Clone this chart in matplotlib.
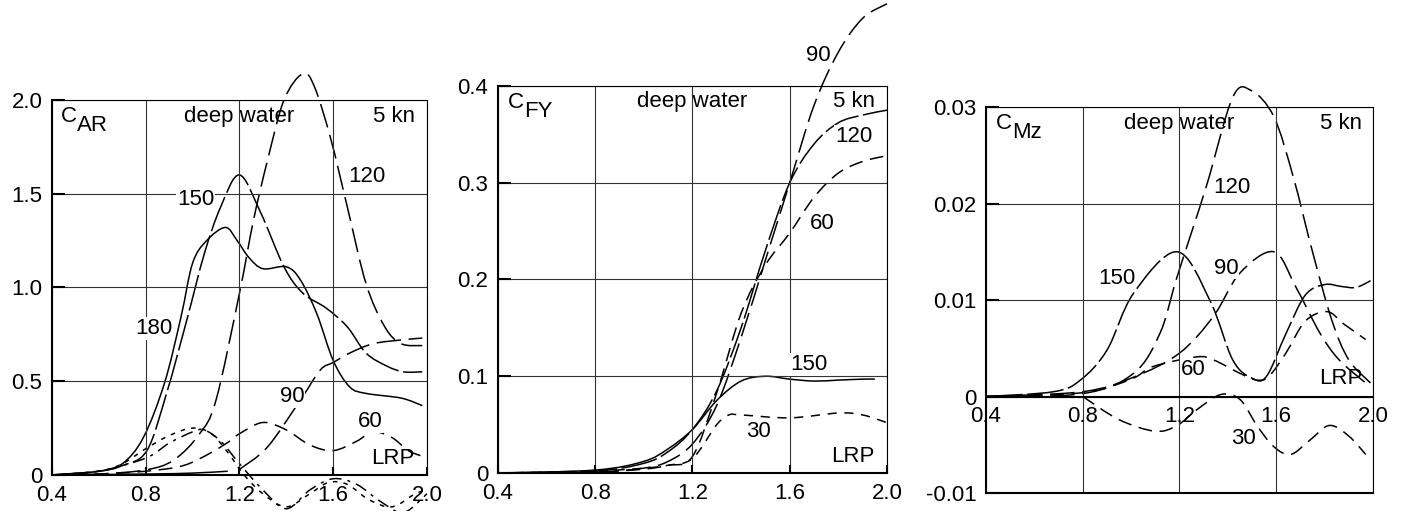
import matplotlib
matplotlib.use("Agg")
import matplotlib.pyplot as plt
from matplotlib.path import Path
from matplotlib.patches import PathPatch
import numpy as np

plt.rcParams['font.family'] = ['Liberation Sans', 'DejaVu Sans']
plt.rcParams['font.size'] = 16

# --- C_AR, deep water, 5 kn ---
car_x180 = [0.4, 0.6, 0.7, 0.79, 0.88, 0.95, 1.0, 1.06, 1.14, 1.19, 1.24, 1.30, 1.40, 1.46, 1.53, 1.60, 1.67, 1.74, 1.89, 1.98]
car_y180 = [0, 0.02, 0.06, 0.20, 0.49, 0.84, 1.13, 1.25, 1.32, 1.25, 1.16, 1.10, 1.11, 1.04, 0.86, 0.61, 0.47, 0.435, 0.41, 0.37]
car_x150 = [0.4, 0.6, 0.7, 0.805, 0.89, 0.976, 1.05, 1.12, 1.2, 1.29, 1.39, 1.47, 1.57, 1.66, 1.74, 1.83, 1.90, 1.98]
car_y150 = [0, 0.02, 0.05, 0.13, 0.44, 0.83, 1.18, 1.43, 1.60, 1.40, 1.11, 0.97, 0.89, 0.79, 0.65, 0.58, 0.55, 0.55]
car_x120 = [0.4, 0.6, 0.8, 0.92, 1.03, 1.10, 1.2, 1.26, 1.32, 1.39, 1.47, 1.52, 1.59, 1.66, 1.74, 1.82, 1.89, 1.98]
car_y120 = [0, 0.005, 0.027, 0.08, 0.22, 0.40, 0.97, 1.36, 1.68, 2.0, 2.14, 2.07, 1.79, 1.43, 1.02, 0.79, 0.70, 0.69]
car_x90 = [1.2, 1.32, 1.46, 1.545, 1.6, 1.67, 1.77, 1.89, 1.98]
car_y90 = [0.03, 0.15, 0.40, 0.56, 0.60, 0.65, 0.70, 0.72, 0.73]
car_x60 = [0.4, 0.6, 0.8, 0.96, 1.08, 1.17, 1.2, 1.3, 1.4, 1.5, 1.6, 1.7, 1.77, 1.85, 1.92, 1.98]
car_y60 = [0, 0.005, 0.02, 0.05, 0.12, 0.19, 0.22, 0.28, 0.24, 0.16, 0.13, 0.18, 0.23, 0.20, 0.13, 0.10]
car_x30 = [0.4, 0.6, 0.7, 0.8, 0.9, 1.0, 1.08, 1.15, 1.22, 1.3, 1.4, 1.5, 1.58, 1.66, 1.75, 1.85, 1.95, 2.0]
car_y30 = [0, 0.02, 0.06, 0.14, 0.21, 0.25, 0.22, 0.12, 0.0, -0.1, -0.17, -0.10, -0.04, -0.05, -0.13, -0.17, -0.10, -0.08]
car_x0 = [0.4, 0.6, 0.8, 0.9, 1.0, 1.05, 1.12, 1.2, 1.3, 1.4, 1.5, 1.6, 1.7, 1.8, 1.9, 2.0]
car_y0 = [0, 0.02, 0.09, 0.17, 0.23, 0.24, 0.18, 0.06, -0.08, -0.18, -0.08, -0.02, -0.05, -0.14, -0.2, -0.1]
car_xlow = [0.4, 0.8, 1.0, 1.15]
car_ylow = [0, 0.005, 0.01, 0.02]

# --- C_FY ---
cfy_x = [0.4, 0.8, 1.0, 1.1, 1.2, 1.3, 1.4, 1.5, 1.6, 1.7, 1.8, 1.9, 2.0]
cfy_y90 = [0, 0.001, 0.005, 0.012, 0.03, 0.07, 0.14, 0.22, 0.30, 0.38, 0.435, 0.47, 0.485]
cfy_y120 = [0, 0.002, 0.01, 0.022, 0.045, 0.085, 0.15, 0.23, 0.30, 0.34, 0.362, 0.37, 0.375]
cfy_y60 = [0, 0.001, 0.004, 0.008, 0.017, 0.083, 0.165, 0.215, 0.248, 0.285, 0.31, 0.322, 0.328]
cfy_x150 = [0.4, 0.8, 1.0, 1.1, 1.2, 1.3, 1.4, 1.5, 1.6, 1.7, 1.8, 1.9, 1.95]
cfy_y150 = [0, 0.003, 0.012, 0.025, 0.045, 0.075, 0.095, 0.1, 0.097, 0.095, 0.096, 0.097, 0.097]
cfy_x30 = [0.4, 0.8, 1.0, 1.1, 1.2, 1.3, 1.35, 1.4, 1.6, 1.8, 1.9, 2.0]
cfy_y30 = [0, 0.002, 0.005, 0.008, 0.015, 0.05, 0.06, 0.06, 0.057, 0.062, 0.06, 0.052]

# --- C_Mz ---
cmz_x120 = [0.4, 0.8, 1.01, 1.12, 1.19, 1.31, 1.42, 1.497, 1.59, 1.67, 1.75, 1.83, 1.9, 1.99]
cmz_y120 = [0, 0.0003, 0.0024, 0.0066, 0.0124, 0.0217, 0.031, 0.0317, 0.029, 0.0228, 0.015, 0.0079, 0.0038, 0.0014]
cmz_x150 = [0.4, 0.68, 0.79, 0.9, 1.01, 1.19, 1.325, 1.42, 1.5, 1.56, 1.64, 1.72, 1.8, 1.87, 1.93, 1.99]
cmz_y150 = [0, 0.0005, 0.0017, 0.0048, 0.0107, 0.015, 0.01, 0.0038, 0.0019, 0.0021, 0.0065, 0.0105, 0.0116, 0.0114, 0.0113, 0.012]
cmz_x90 = [0.4, 0.8, 1.01, 1.2, 1.34, 1.45, 1.59, 1.68, 1.78, 1.86, 1.97]
cmz_y90 = [0, 0.0005, 0.002, 0.0045, 0.0083, 0.0128, 0.015, 0.0114, 0.0066, 0.0038, 0.0014]
cmz_x60 = [0.4, 0.8, 1.0, 1.09, 1.27, 1.34, 1.45, 1.52, 1.57, 1.64, 1.72, 1.81, 1.88, 1.97]
cmz_y60 = [0, 0.0004, 0.0018, 0.0031, 0.0041, 0.0038, 0.0024, 0.0017, 0.0021, 0.0045, 0.0078, 0.0088, 0.0075, 0.0059]
cmz_x30 = [0.8, 0.95, 1.1, 1.19, 1.27, 1.37, 1.45, 1.52, 1.59, 1.66, 1.74, 1.82, 1.9, 1.97]
cmz_y30 = [0, -0.0024, -0.0036, -0.003, -0.0014, 0.0002, -0.0003, -0.003, -0.0052, -0.006, -0.0045, -0.003, -0.0041, -0.006]

LONG = (0, (16, 5))
VLONG = (0, (24, 3))
MED = (0, (9, 5))
SHORT = (0, (6, 5))
DOT = (0, (3, 4))
DASHDOT = (0, (8, 4, 2, 4))

fig = plt.figure(figsize=(14.05, 5.11), dpi=100)
ax1 = fig.add_axes([0.037, 0.0705, 0.2669, 0.7339])
ax2 = fig.add_axes([0.3544, 0.0744, 0.2769, 0.7573])
ax3 = fig.add_axes([0.7018, 0.0352, 0.2754, 0.7554])


def frame(ax, yticks, ylabels, ylim):
    ax.set_xlim(0.4, 2.0)
    ax.set_ylim(*ylim)
    ax.set_xticks([0.4, 0.8, 1.2, 1.6, 2.0])
    ax.set_xticklabels(['0.4', '0.8', '1.2', '1.6', '2.0'])
    ax.set_yticks(yticks)
    ax.set_yticklabels(ylabels)
    ax.grid(True, color='#333333', lw=0.8)
    ax.tick_params(axis='y', direction='in', length=9, width=1.5, pad=7)
    ax.tick_params(axis='x', direction='in', length=6, width=1.5, pad=7)
    for s in ['left', 'bottom']:
        ax.spines[s].set_linewidth(1.5)
    for s in ['top', 'right']:
        ax.spines[s].set_linewidth(0.8)


def curve(ax, x, y, ls):
    # smooth curve through the read points (cubic Bezier segments)
    p = np.column_stack([x, y]).astype(float)
    n = len(p)
    verts = [p[0]]
    codes = [Path.MOVETO]
    for i in range(n - 1):
        p0 = p[i - 1] if i > 0 else p[i]
        p3 = p[i + 2] if i + 2 < n else p[i + 1]
        c1 = p[i] + (p[i + 1] - p0) / 6.0
        c2 = p[i + 1] - (p3 - p[i]) / 6.0
        verts += [c1, c2, p[i + 1]]
        codes += [Path.CURVE4] * 3
    patch = PathPatch(Path(verts, codes), fill=False, edgecolor='black',
                      lw=1.1, linestyle=ls, clip_on=False, transform=ax.transData)
    ax.add_patch(patch)


def lbl(ax, x, y, s):
    ax.text(x, y, s, ha='center', va='center', fontsize=16,
            bbox=dict(facecolor='white', edgecolor='none', pad=0.5), zorder=5)


def head(ax, main, sub, top):
    ax.text(0.025, top, main, transform=ax.transAxes, ha='left', va='top', fontsize=16)
    ax.annotate(sub, xy=(0.025, top), xycoords='axes fraction', xytext=(11.5, -6.5),
                textcoords='offset points', ha='left', va='top', fontsize=16)


def top_texts(ax, yt, xr, lrp_y):
    ax.text(0.5, yt, 'deep water', transform=ax.transAxes, ha='center', va='center')
    ax.text(xr, yt, '5 kn', transform=ax.transAxes, ha='right', va='center')
    ax.text(xr, lrp_y, 'LRP', transform=ax.transAxes, ha='right', va='center')


# panel 1
frame(ax1, [0, 0.5, 1.0, 1.5, 2.0], ['0', '0.5', '1.0', '1.5', '2.0'], (0, 2.0))
curve(ax1, car_x180, car_y180, '-')
curve(ax1, car_x150, car_y150, VLONG)
curve(ax1, car_x120, car_y120, LONG)
curve(ax1, car_x90, car_y90, LONG)
curve(ax1, car_x60, car_y60, MED)
curve(ax1, car_x30, car_y30, DOT)
curve(ax1, car_x0, car_y0, DASHDOT)
curve(ax1, car_xlow, car_ylow, '-')
head(ax1, 'C', 'AR', 0.985)
top_texts(ax1, 0.955, 0.968, 0.044)
lbl(ax1, 1.012, 1.467, '150')
lbl(ax1, 0.834, 0.782, '180')
lbl(ax1, 1.744, 1.59, '120')
lbl(ax1, 1.424, 0.418, '90')
lbl(ax1, 1.758, 0.284, '60')

# panel 2
frame(ax2, [0, 0.1, 0.2, 0.3, 0.4], ['0', '0.1', '0.2', '0.3', '0.4'], (0, 0.4))
curve(ax2, cfy_x, cfy_y90, LONG)
curve(ax2, cfy_x, cfy_y120, VLONG)
curve(ax2, cfy_x, cfy_y60, MED)
curve(ax2, cfy_x150, cfy_y150, '-')
curve(ax2, cfy_x30, cfy_y30, SHORT)
head(ax2, 'C', 'FY', 0.985)
top_texts(ax2, 0.96, 0.968, 0.043)
lbl(ax2, 1.718, 0.432, '90')
lbl(ax2, 1.863, 0.348, '120')
lbl(ax2, 1.732, 0.258, '60')
lbl(ax2, 1.677, 0.112, '150')
lbl(ax2, 1.471, 0.043, '30')

# panel 3
frame(ax3, [-0.01, 0, 0.01, 0.02, 0.03], ['-0.01', '0', '0.01', '0.02', '0.03'], (-0.01, 0.03))
ax3.set_xticklabels([])
ax3.tick_params(axis='x', length=0)
ax3.axhline(0, color='black', lw=1.5)
for xv, s in zip([0.4, 0.8, 1.2, 1.6, 2.0], ['0.4', '0.8', '1.2', '1.6', '2.0']):
    ax3.annotate(s, (xv, 0), xytext=(0, -7), textcoords='offset points',
                 ha='center', va='top', fontsize=16)
curve(ax3, cmz_x120, cmz_y120, LONG)
curve(ax3, cmz_x150, cmz_y150, VLONG)
curve(ax3, cmz_x90, cmz_y90, LONG)
curve(ax3, cmz_x60, cmz_y60, MED)
curve(ax3, cmz_x30, cmz_y30, MED)
head(ax3, 'C', 'Mz', 0.985)
top_texts(ax3, 0.957, 0.972, 0.297)
lbl(ax3, 1.415, 0.0217, '120')
lbl(ax3, 0.94, 0.0122, '150')
lbl(ax3, 1.394, 0.0133, '90')
lbl(ax3, 1.256, 0.0028, '60')
lbl(ax3, 1.463, -0.0043, '30')

fig.savefig('out.png', dpi=100)
